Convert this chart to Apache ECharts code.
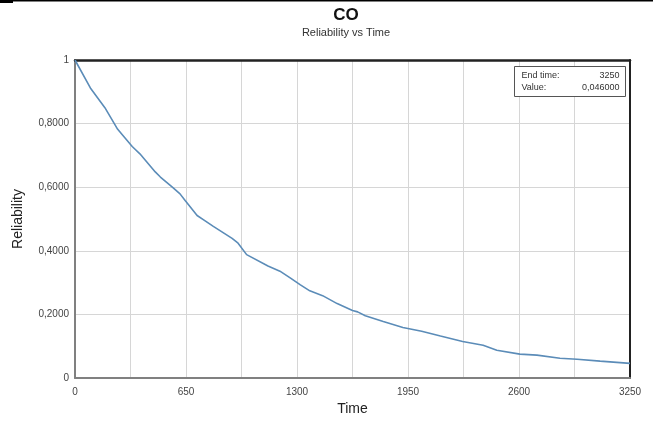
<!DOCTYPE html>
<html>
<head>
<meta charset="utf-8">
<script src="https://cdn.jsdelivr.net/npm/echarts@6/dist/echarts.min.js"></script>
<style>
html,body{margin:0;padding:0;background:#fff;}
#chart{width:653px;height:421px;}
</style>
</head>
<body>
<div id="chart"></div>
<script>
// 时间点
var times = [0, 90, 175, 250, 335, 380, 470, 500, 570, 615, 645, 715, 760, 810, 920, 955, 1005, 1130, 1200, 1260,
    1320, 1375, 1450, 1535, 1625, 1655, 1700, 1805, 1920, 2030, 2140, 2270, 2390, 2470, 2605, 2705, 2840, 2940, 3075, 3250];
// 可靠度
var reliability = [1.000, 0.912, 0.850, 0.782, 0.728, 0.705, 0.648, 0.632, 0.600, 0.579, 0.558, 0.511, 0.495, 0.477, 0.439, 0.424, 0.388, 0.352, 0.336, 0.315,
    0.293, 0.274, 0.259, 0.234, 0.212, 0.208, 0.196, 0.178, 0.159, 0.147, 0.132, 0.115, 0.103, 0.087, 0.075, 0.072, 0.062, 0.059, 0.053, 0.046];
var xTicks = [0, 650, 1300, 1950, 2600, 3250];
var yTicks = [0, 0.2, 0.4, 0.6, 0.8, 1];

var seriesData = times.map(function(t, i){ return [t, reliability[i]]; });
var endTime = times[times.length - 1];
var endValue = reliability[reliability.length - 1].toFixed(6).replace('.', ',');

var font = 'Liberation Sans, Arial, sans-serif';
var xMin = xTicks[0], xMax = xTicks[xTicks.length - 1];
var yMin = yTicks[0], yMax = yTicks[yTicks.length - 1];

var myChart = echarts.init(document.getElementById('chart'));
var option = {
    animation: false,
    title: {
        text: 'CO',
        subtext: 'Reliability vs Time',
        left: 341,
        textAlign: 'center',
        top: 2,
        itemGap: 3,
        textStyle: { fontFamily: font, fontSize: 17, fontWeight: 'bold', color: '#111' },
        subtextStyle: { fontFamily: font, fontSize: 11, color: '#333' }
    },
    grid: { left: 75, right: 23, top: 60, bottom: 40 },
    xAxis: [{
        type: 'value',
        min: xMin, max: xMax,
        interval: 650,
        name: 'Time',
        nameLocation: 'middle',
        nameGap: 24,
        nameTextStyle: { fontFamily: font, fontSize: 14, color: '#222' },
        axisLine: { show: true, onZero: false, lineStyle: { color: '#808080', width: 2 } },
        axisTick: { show: false },
        axisLabel: { fontFamily: font, fontSize: 10, color: '#444', margin: 9, formatter: function(v){ return String(v); } },
        splitLine: { show: true, lineStyle: { color: '#d6d6d6', width: 1 } },
        minorTick: { show: false, splitNumber: 2 },
        minorSplitLine: { show: true, lineStyle: { color: '#d6d6d6', width: 1 } }
    }, {
        // 上边框
        type: 'value', position: 'top',
        min: xMin, max: xMax,
        axisLine: { show: true, onZero: false, lineStyle: { color: '#222', width: 2.5 } },
        axisTick: { show: false }, axisLabel: { show: false }, splitLine: { show: false }
    }],
    yAxis: [{
        type: 'value',
        min: yMin, max: yMax,
        interval: 0.2,
        name: 'Reliability',
        nameLocation: 'middle',
        nameGap: 50,
        nameTextStyle: { fontFamily: font, fontSize: 14, color: '#222' },
        axisLine: { show: true, onZero: false, lineStyle: { color: '#808080', width: 2 } },
        axisTick: { show: false },
        axisLabel: {
            fontFamily: font, fontSize: 10, color: '#444', margin: 6,
            formatter: function(v){
                if (v === 0 || v === 1) return String(v);
                return v.toFixed(4).replace('.', ',');
            }
        },
        splitLine: { show: true, lineStyle: { color: '#d6d6d6', width: 1 } }
    }, {
        // 右边框
        type: 'value', position: 'right',
        min: yMin, max: yMax,
        axisLine: { show: true, onZero: false, lineStyle: { color: '#222', width: 2 } },
        axisTick: { show: false }, axisLabel: { show: false }, splitLine: { show: false }
    }],
    series: [{
        name: 'Reliability',
        type: 'line',
        data: seriesData,
        showSymbol: false,
        smooth: false,
        lineStyle: { color: '#5b8cb8', width: 1.6 }
    }],
    graphic: [
        // 顶部黑线
        { type: 'rect', left: 0, top: 0, shape: { width: 13, height: 3 }, style: { fill: '#000' } },
        { type: 'rect', left: 13, top: 0, shape: { width: 640, height: 1.5 }, style: { fill: '#000' } },
        // 右上角信息框
        {
            type: 'group', left: 514, top: 66, z: 100,
            children: [
                { type: 'rect', z: 100, shape: { x: 0, y: 0, width: 111, height: 30 }, style: { fill: '#fff', stroke: '#555', lineWidth: 1 } },
                { type: 'text', z: 101, x: 7, y: 5, style: { text: 'End time:', fontFamily: font, fontSize: 9, fill: '#333' } },
                { type: 'text', z: 101, x: 105, y: 5, style: { text: String(endTime), align: 'right', fontFamily: font, fontSize: 9, fill: '#333' } },
                { type: 'text', z: 101, x: 7, y: 17, style: { text: 'Value:', fontFamily: font, fontSize: 9, fill: '#333' } },
                { type: 'text', z: 101, x: 105, y: 17, style: { text: endValue, align: 'right', fontFamily: font, fontSize: 9, fill: '#333' } }
            ]
        }
    ]
};
myChart.setOption(option);
</script>
</body>
</html>
